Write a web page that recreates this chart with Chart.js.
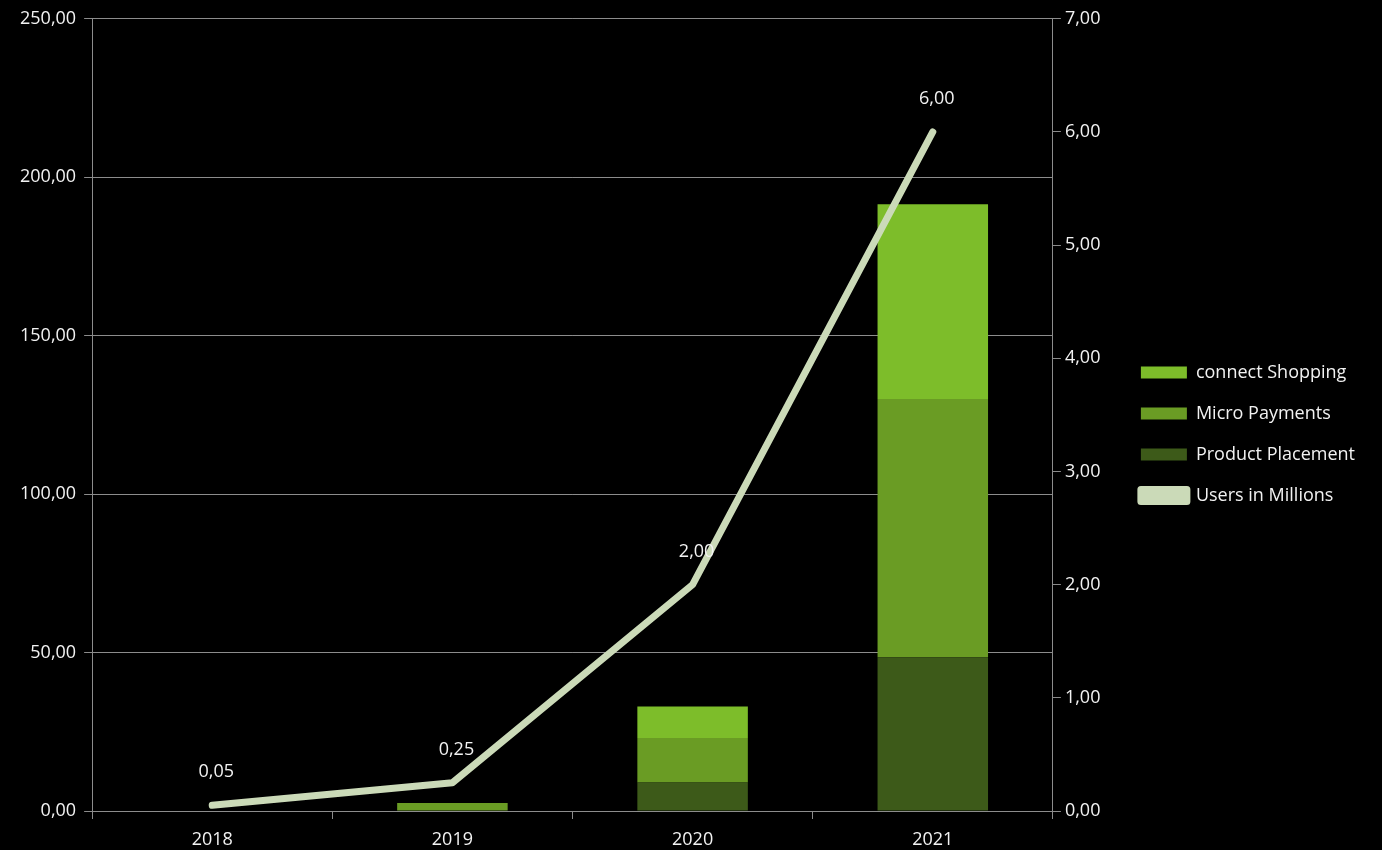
<!DOCTYPE html>
<html>
<head>
<meta charset="utf-8">
<script src="https://cdn.jsdelivr.net/npm/chart.js@4"></script>
<style>
    html, body { margin: 0; padding: 0; background: #000; }
    #wrap { width: 1382px; height: 850px; }
</style>
</head>
<body>
<div id="wrap"><canvas id="chart"></canvas></div>
<script>
// Chart data
const years = ['2018', '2019', '2020', '2021'];
const productPlacement = [0, 0, 9, 48.5];
const microPayments = [0, 2.5, 14, 81.5];
const connectShopping = [0, 0, 10, 61.5];
const usersInMillions = [0.05, 0.25, 2, 6];

const fmt = (v) => Number(v).toFixed(2).replace('.', ',');
const FONT = '"Open Sans"';

// Draws the value labels above the line points
const lineLabels = {
    id: 'lineLabels',
    afterDatasetsDraw(chart) {
        const ctx = chart.ctx;
        const meta = chart.getDatasetMeta(3);
        ctx.save();
        ctx.font = '18px ' + FONT;
        ctx.fillStyle = '#f2f2f2';
        ctx.textAlign = 'center';
        ctx.textBaseline = 'middle';
        meta.data.forEach((pt, i) => {
            ctx.fillText(fmt(usersInMillions[i]), pt.x + 4, pt.y - 33);
        });
        ctx.restore();
    }
};

const ctx = document.getElementById('chart').getContext('2d');
new Chart(ctx, {
    type: 'bar',
    data: {
        labels: years,
        datasets: [
            {
                label: 'Product Placement',
                data: productPlacement,
                backgroundColor: '#3d5a19',
                order: 1
            },
            {
                label: 'Micro Payments',
                data: microPayments,
                backgroundColor: '#6a9c24',
                order: 1
            },
            {
                label: 'connect Shopping',
                data: connectShopping,
                backgroundColor: '#7dbd2a',
                order: 1
            },
            {
                type: 'line',
                label: 'Users in Millions',
                data: usersInMillions,
                yAxisID: 'y2',
                borderColor: '#cbdab8',
                backgroundColor: '#cbdab8',
                borderWidth: 7,
                borderCapStyle: 'round',
                borderJoinStyle: 'round',
                pointRadius: 0,
                tension: 0,
                order: 0
            }
        ]
    },
    options: {
        responsive: true,
        maintainAspectRatio: false,
        animation: false,
        layout: { padding: { top: 18, right: 17, left: 12, bottom: 0 } },
        datasets: { bar: { categoryPercentage: 0.46, barPercentage: 1 } },
        plugins: {
            tooltip: { enabled: false },
            legend: {
                position: 'right',
                maxWidth: 320,
                labels: {
                    color: '#f2f2f2',
                    font: { family: FONT, size: 18 },
                    boxWidth: 46,
                    boxHeight: 12,
                    padding: 23,
                    sort: (a, b) => {
                        const rank = [2, 1, 0, 3];
                        return rank[a.datasetIndex] - rank[b.datasetIndex];
                    }
                }
            }
        },
        scales: {
            x: {
                stacked: true,
                grid: {
                    display: true,
                    drawOnChartArea: false,
                    drawTicks: true,
                    tickLength: 8,
                    color: '#8c8c8c',
                    offset: true
                },
                border: { color: '#8c8c8c' },
                ticks: {
                    color: '#f2f2f2',
                    font: { family: FONT, size: 18 },
                    padding: 10
                },
                afterFit: (scale) => { scale.height = 39; }
            },
            y: {
                stacked: true,
                position: 'left',
                min: 0,
                max: 250,
                grid: {
                    color: '#8c8c8c',
                    tickLength: 8
                },
                border: { color: '#8c8c8c' },
                ticks: {
                    stepSize: 50,
                    color: '#f2f2f2',
                    font: { family: FONT, size: 18 },
                    padding: 8,
                    callback: (v) => fmt(v)
                }
            },
            y2: {
                position: 'right',
                min: 0,
                max: 7,
                grid: {
                    drawOnChartArea: false,
                    color: '#8c8c8c',
                    tickLength: 8
                },
                border: { color: '#8c8c8c' },
                ticks: {
                    stepSize: 1,
                    color: '#f2f2f2',
                    font: { family: FONT, size: 18 },
                    padding: 4,
                    callback: (v) => fmt(v)
                },
                afterFit: (scale) => { scale.width = 65; }
            }
        }
    },
    plugins: [lineLabels]
});
</script>
</body>
</html>
